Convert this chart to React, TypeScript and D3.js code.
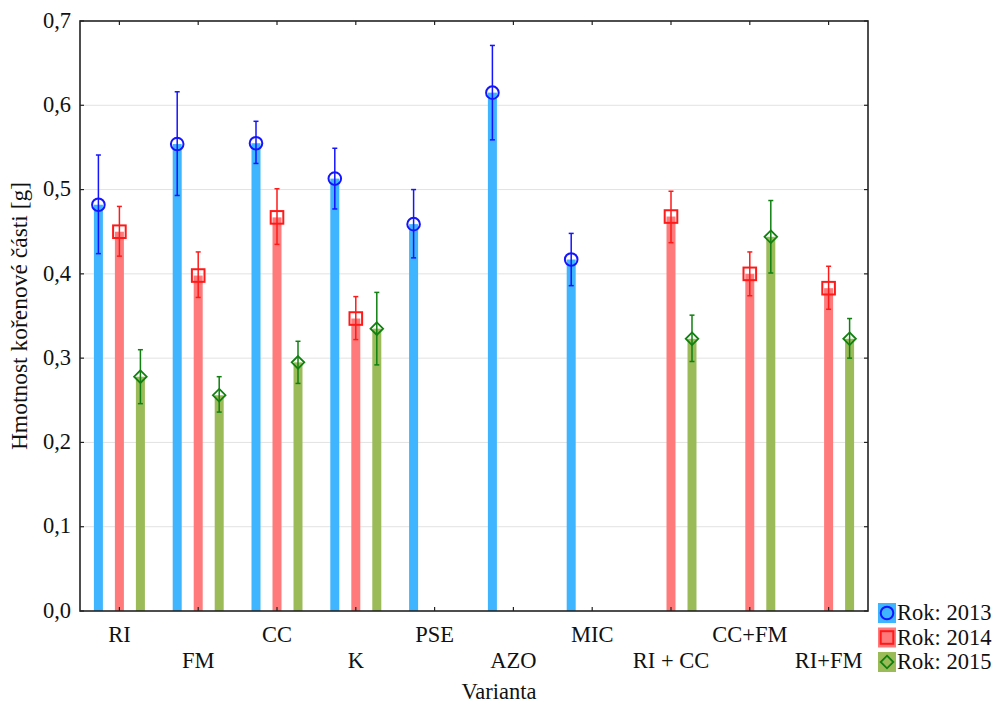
import React from 'react';
import * as d3 from 'd3';

const categories = ['RI', 'FM', 'CC', 'K', 'PSE', 'AZO', 'MIC', 'RI + CC', 'CC+FM', 'RI+FM'];
const years = ['2013', '2014', '2015'];

// mean, lower, upper (null = no data)
const mean2013 = [0.482, 0.554, 0.555, 0.513, 0.459, 0.615, 0.417, null, null, null];
const low2013 = [0.424, 0.493, 0.531, 0.477, 0.419, 0.559, 0.386, null, null, null];
const high2013 = [0.541, 0.616, 0.581, 0.549, 0.500, 0.671, 0.448, null, null, null];

const mean2014 = [0.450, 0.398, 0.467, 0.347, null, null, null, 0.468, 0.400, 0.383];
const low2014 = [0.421, 0.372, 0.435, 0.322, null, null, null, 0.437, 0.374, 0.358];
const high2014 = [0.480, 0.426, 0.501, 0.373, null, null, null, 0.498, 0.426, 0.409];

const mean2015 = [0.278, 0.256, 0.295, 0.335, null, null, null, 0.323, 0.444, 0.323];
const low2015 = [0.246, 0.236, 0.270, 0.292, null, null, null, 0.296, 0.401, 0.300];
const high2015 = [0.310, 0.278, 0.320, 0.378, null, null, null, 0.351, 0.487, 0.347];

const yTicks = [0, 0.1, 0.2, 0.3, 0.4, 0.5, 0.6, 0.7];

const series = [
  { year: '2013', mean: mean2013, low: low2013, high: high2013, bar: '#3fb4ff', line: '#1414ff', marker: 'circle' },
  { year: '2014', mean: mean2014, low: low2014, high: high2014, bar: '#ff7b7b', line: '#ff1a1a', marker: 'square' },
  { year: '2015', mean: mean2015, low: low2015, high: high2015, bar: '#9bbb59', line: '#108010', marker: 'diamond' },
];

const W = 993;
const H = 704;
const left = 80;
const right = 868;
const top = 21;
const bottom = 611;
const font = '"Liberation Serif", "Times New Roman", serif';
const fs = 22.5;

const Marker = ({ type, x, y, color }: { type: string; x: number; y: number; color: string }) => {
  if (type === 'circle') {
    return <circle cx={x} cy={y} r={6.3} fill="none" stroke={color} strokeWidth={2} />;
  }
  if (type === 'square') {
    return <rect x={x - 6.3} y={y - 6.3} width={12.6} height={12.6} fill="none" stroke={color} strokeWidth={2} />;
  }
  return (
    <path
      d={`M${x},${y - 6.3}L${x + 6.3},${y}L${x},${y + 6.3}L${x - 6.3},${y}Z`}
      fill="none"
      stroke={color}
      strokeWidth={1.8}
    />
  );
};

export default function App() {
  const x = d3.scaleBand().domain(categories).range([left, right]);
  const off = d3.scalePoint().domain(years).range([-21, 21]);
  const y = d3.scaleLinear().domain([0, 0.7]).range([bottom, top]);
  const fmt = (v: number) => v.toFixed(1).replace('.', ',');
  const barW = 9;

  return (
    <svg width={W} height={H} style={{ position: 'absolute', left: 0, top: 0 }} fontFamily={font}>
      <rect width={W} height={H} fill="#fff" />
      {/* grid */}
      {yTicks.slice(1, -1).map(t => (
        <line key={t} x1={left} x2={right} y1={y(t)} y2={y(t)} stroke="#e2e2e2" strokeWidth={1} />
      ))}
      {/* bars */}
      {series.map(s =>
        categories.map((c, i) => {
          const m = s.mean[i];
          if (m == null) return null;
          const cx = (x(c) as number) + x.bandwidth() / 2 + (off(s.year) as number);
          return (
            <rect key={s.year + c} x={cx - barW / 2} y={y(m)} width={barW} height={bottom - y(m)} fill={s.bar} />
          );
        })
      )}
      {/* error bars & markers */}
      {series.map(s =>
        categories.map((c, i) => {
          const m = s.mean[i];
          if (m == null) return null;
          const cx = (x(c) as number) + x.bandwidth() / 2 + (off(s.year) as number);
          const lo = y(s.low[i] as number);
          const hi = y(s.high[i] as number);
          return (
            <g key={'e' + s.year + c} stroke={s.line} strokeWidth={1.5}>
              <line x1={cx} x2={cx} y1={lo} y2={hi} />
              <line x1={cx - 2.5} x2={cx + 2.5} y1={lo} y2={lo} />
              <line x1={cx - 2.5} x2={cx + 2.5} y1={hi} y2={hi} />
              <Marker type={s.marker} x={cx} y={y(m)} color={s.line} />
            </g>
          );
        })
      )}
      {/* frame */}
      <rect x={left} y={top} width={right - left} height={bottom - top} fill="none" stroke="#222" strokeWidth={1.6} />
      {/* y ticks */}
      {yTicks.map(t => (
        <g key={'yt' + t}>
          <line x1={left} x2={left + 4} y1={y(t)} y2={y(t)} stroke="#222" strokeWidth={1.2} />
          <line x1={right - 4} x2={right} y1={y(t)} y2={y(t)} stroke="#222" strokeWidth={1.2} />
          <text x={71} y={y(t)} dy="0.3em" textAnchor="end" fontSize={fs} fill="#111">
            {fmt(t)}
          </text>
        </g>
      ))}
      {/* x ticks & labels */}
      {categories.map((c, i) => {
        const cx = (x(c) as number) + x.bandwidth() / 2;
        return (
          <g key={'xt' + c}>
            <line x1={cx} x2={cx} y1={bottom} y2={bottom - 4} stroke="#222" strokeWidth={1.2} />
            <line x1={cx} x2={cx} y1={top} y2={top + 4} stroke="#222" strokeWidth={1.2} />
            <text x={cx} y={i % 2 === 0 ? 642 : 668} textAnchor="middle" fontSize={fs} fill="#111">
              {c}
            </text>
          </g>
        );
      })}
      {/* axis titles */}
      <text x={499} y={699} textAnchor="middle" fontSize={fs} fill="#111">
        Varianta
      </text>
      <text transform={`translate(27,${(top + bottom) / 2}) rotate(-90)`} textAnchor="middle" fontSize={23.5} fill="#111">
        Hmotnost kořenové části [g]
      </text>
      {/* legend */}
      {series.map((s, i) => {
        const ly = 603 + i * 24.5;
        return (
          <g key={'lg' + s.year}>
            <rect x={878} y={ly} width={18} height={20} fill={s.bar} />
            <Marker type={s.marker} x={887} y={ly + 10} color={s.line} />
            <text x={897} y={ly + 10} dy="0.33em" fontSize={fs} fill="#111">
              {'Rok: ' + s.year}
            </text>
          </g>
        );
      })}
    </svg>
  );
}
